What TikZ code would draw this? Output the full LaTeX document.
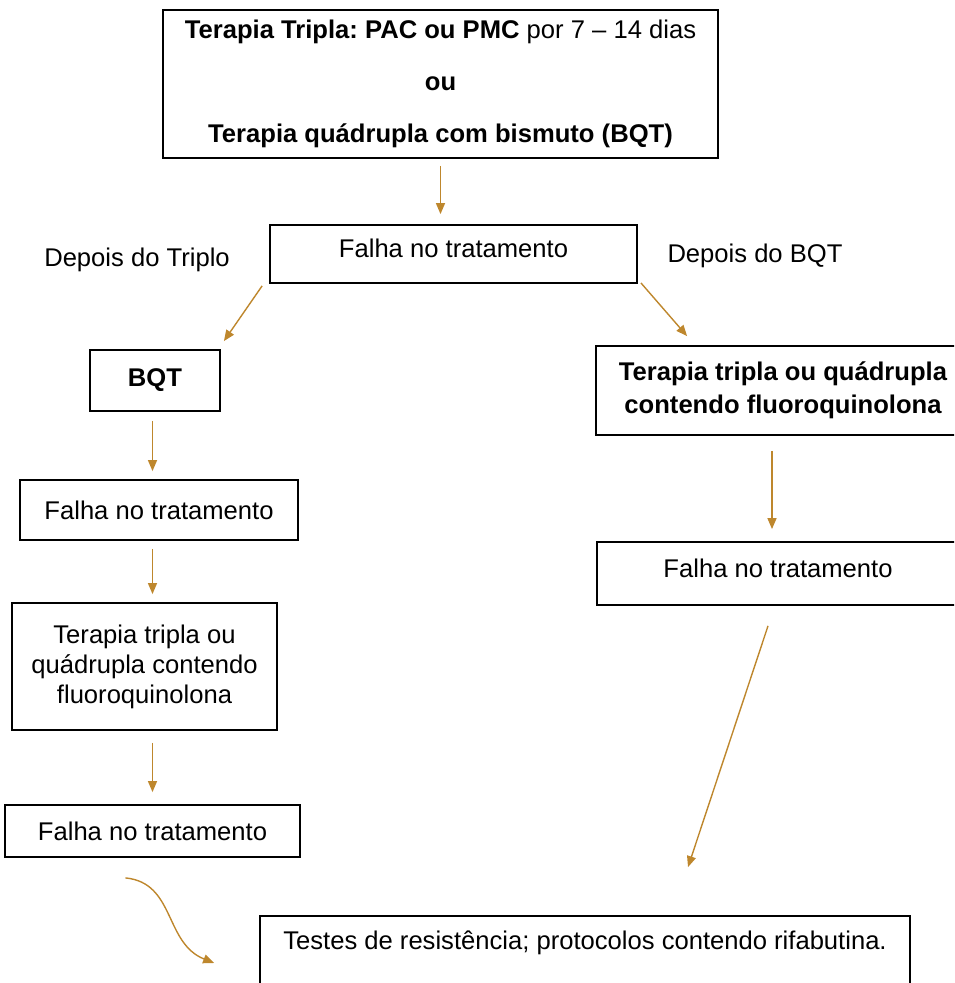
\documentclass[tikz,border=0pt]{standalone}
\usepackage{fontspec}
\setmainfont{Liberation Sans}
\usepackage{tikz}
\usetikzlibrary{arrows.meta,positioning,calc}
\definecolor{carrow}{RGB}{190,135,45}
\frenchspacing

\begin{document}
\begin{tikzpicture}[x=0.5pt,y=-0.5pt,
font=\fontsize{12.8}{15}\selectfont,
box/.style={draw,line width=0.9pt,align=center,inner sep=2pt},
lbl/.style={inner sep=0pt},
arr/.style={-{Triangle[length=5.5pt,width=4.5pt]},draw=carrow,line width=0.7pt}]
\useasboundingbox (0,0) rectangle (954,983);
\clip (0,0) rectangle (954,983);
\node[box,minimum width=277.5pt,minimum height=74pt,font=\fontsize{12.8}{26}\selectfont] (top) at (440.5,84)
  {\textbf{Terapia Tripla: PAC ou PMC} por 7 -- 14 dias\\ \textbf{ou}\\ \textbf{Terapia quádrupla com bismuto (BQT)}};
\node[box,minimum width=183.5pt,minimum height=29pt,text depth=6pt] (f0) at (453.5,254) {Falha no tratamento};
\node[lbl] (lblL) at (137,260) {Depois do Triplo};
\node[lbl] (lblR) at (755,256) {Depois do BQT};
\node[box,minimum width=65pt,minimum height=30.5pt,font=\fontsize{12.8}{15}\bfseries] (bqt) at (155,380.5) {BQT};
\node[box,minimum width=187pt,minimum height=44.5pt,font=\fontsize{12.8}{16.5}\bfseries] (rt1) at (783,390.5)
  {Terapia tripla ou quádrupla\\contendo fluoroquinolona};
\node[box,minimum width=139pt,minimum height=30pt] (lf1) at (159,510) {Falha no tratamento};
\node[box,minimum width=132.5pt,minimum height=63.5pt] (lt) at (144.5,666.5)
  {Terapia tripla ou\\quádrupla contendo\\fluoroquinolona};
\node[box,minimum width=147.5pt,minimum height=26pt] (lf2) at (152.5,831) {Falha no tratamento};
\node[box,minimum width=181pt,minimum height=31.5pt,text depth=5pt] (rf) at (778,573.5) {Falha no tratamento};
\node[box,anchor=base,minimum width=325pt,text height=13.5pt,text depth=27.5pt,inner sep=3pt] (fin) at (585,949)
  {Testes de resistência; protocolos contendo rifabutina.};
% arrows
\draw[arr,shorten <=3.5pt,shorten >=5pt] (top.south) -- (top.south |- f0.north);
\draw[arr] ($(f0.south west)+(-7,2)$) -- ($(bqt.north east)+(3,-8)$);
\draw[arr] ($(f0.south east)+(3,-1)$) -- ($(rt1.north west)+(92,-9)$);
\draw[arr,shorten <=4.5pt,shorten >=4pt] (bqt.south -| lf2) -- (lf1.north -| lf2);
\draw[arr,shorten <=4pt,shorten >=4pt] (lf1.south -| lf2) -- (lt.north -| lf2);
\draw[arr,shorten <=6pt,shorten >=6pt] (lt.south -| lf2) -- (lf2.north);
\draw[arr,shorten <=7.5pt,shorten >=6pt] ($(rt1.south)+(-11,0)$) -- ($(rf.north)+(-6,0)$);
\draw[arr] ($(rf.south)+(-10,20)$) -- ($(fin.north)+(103,-48)$);
\draw[arr] ($(lf2.south)+(-27,20)$) .. controls +(50,5) and +(-50,-20) .. ($(fin.west)+(-45,0)$);
\end{tikzpicture}
\end{document}
